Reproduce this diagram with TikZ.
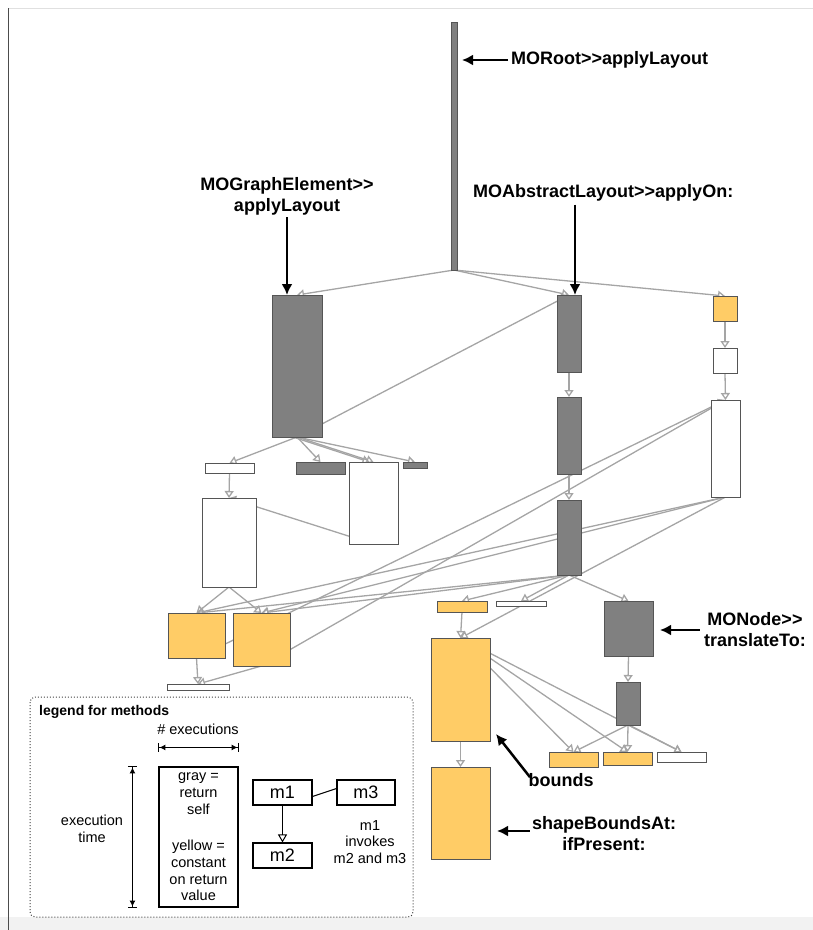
\documentclass[tikz,border=0pt]{standalone}
\usepackage{fontspec}
\setmainfont{Liberation Sans}[Ligatures=TeXOff]
\usetikzlibrary{arrows.meta,backgrounds}
\definecolor{mgray}{RGB}{128,128,128}
\definecolor{mborder}{RGB}{85,85,85}
\definecolor{myellow}{RGB}{255,204,102}
\definecolor{medge}{RGB}{165,165,165}

\begin{document}
\begin{tikzpicture}[x=1pt, y=-1pt,
    graym/.style={draw=mborder, fill=mgray, line width=0.9pt, inner sep=0pt, outer sep=0pt},
    yelm/.style={draw=mborder, fill=myellow, line width=0.9pt, inner sep=0pt, outer sep=0pt},
    whitem/.style={draw=mborder, fill=white, line width=0.9pt, inner sep=0pt, outer sep=0pt},
    call/.style={draw=medge, line width=1.3pt, -{Triangle[open, length=7pt, width=9pt]}},
    callout/.style={line width=2.5pt, -{Latex[length=11pt, width=11pt]}},
    lbl/.style={font=\fontsize{18}{21}\selectfont\bfseries, align=center, inner sep=0pt},
    lgd/.style={font=\fontsize{14.5}{16.7}\selectfont, align=center, inner sep=0pt},
    lgdm/.style={draw, line width=1.1pt, inner sep=0pt, minimum height=25, font=\fontsize{18}{20}\selectfont},
    dim/.style={line width=1pt, {Bar[width=9pt]Latex[length=6pt, width=6pt]}-{Latex[length=6pt, width=6pt]Bar[width=9pt]}}]
  \useasboundingbox (0,0) rectangle (813,930);
  \fill[black!5] (0,917) rectangle (813,930);
  \draw[black!12] (8,8) -- (813,8);
  \draw[black!70, line width=0.8pt] (8,8) -- (8,930);

  % methods
  \node[graym, minimum width=6, minimum height=248] (root) at (454,146) {};
  \node[graym, minimum width=50, minimum height=142] (ge) at (297,366) {};
  \node[graym, minimum width=24, minimum height=77] (al1) at (569,333.5) {};
  \node[graym, minimum width=24, minimum height=77] (al2) at (569,435.5) {};
  \node[graym, minimum width=24, minimum height=75] (al3) at (569,537.5) {};
  \node[yelm, minimum width=24, minimum height=25] (e1) at (725,308.5) {};
  \node[whitem, minimum width=24, minimum height=25] (e2) at (725,360.5) {};
  \node[whitem, minimum width=29, minimum height=97] (e3) at (725.5,448.5) {};
  \node[whitem, minimum width=49, minimum height=10] (b1) at (229.5,468) {};
  \node[graym, minimum width=49, minimum height=12] (b2) at (320.5,468) {};
  \node[whitem, minimum width=49, minimum height=82] (b3) at (373.5,503) {};
  \node[graym, minimum width=24, minimum height=6] (b4) at (415,465) {};
  \node[whitem, minimum width=54, minimum height=89] (c1) at (229,542.5) {};
  \node[yelm, minimum width=57, minimum height=45] (f1) at (196.5,635.5) {};
  \node[yelm, minimum width=57, minimum height=53] (f2) at (261.5,639.5) {};
  \node[whitem, minimum width=62, minimum height=6] (g) at (198,687) {};
  \node[yelm, minimum width=50, minimum height=11] (h1) at (462,606.5) {};
  \node[whitem, minimum width=50, minimum height=5] (h2) at (521,603.5) {};
  \node[graym, minimum width=49, minimum height=55] (tr) at (628.5,628.5) {};
  \node[yelm, minimum width=59, minimum height=103] (bd) at (460.5,689.5) {};
  \node[yelm, minimum width=59, minimum height=92] (sb) at (460.5,813) {};
  \node[graym, minimum width=24, minimum height=43] (tl) at (628,703.5) {};
  \node[yelm, minimum width=49, minimum height=15] (m1y) at (573.5,759.5) {};
  \node[yelm, minimum width=49, minimum height=13] (m2y) at (627.5,758.5) {};
  \node[whitem, minimum width=49, minimum height=10] (m3w) at (681.5,757) {};

  % invocations
  \begin{scope}[on background layer]
    \foreach \a/\b in {root/ge, root/al1, root/e1, ge/al1, ge/b1, ge/b2, ge/b3, ge/b4,
        b1/c1, b3/c1, c1/f1, c1/f2, al1/al2, al2/al3, e1/e2, e2/e3, f1/e3, f2/e3,
        f1/g, f2/g, al3/f1, al3/f2, e3/f1, e3/f2, al3/h1, al3/h2, al3/tr, e3/bd,
        h1/bd, bd/sb, tr/tl, tl/m1y, tl/m2y, tl/m3w}
      \draw[call] (\a.south) -- (\b.north);
    \draw[call] ([xshift=-4pt]ge.south) -- ([xshift=-4pt]b3.north);
    \foreach \b in {m1y, m2y, m3w}
      \draw[call] (bd.north) -- (\b.north);
  \end{scope}

  % labels
  \node[lbl, anchor=west] (lroot) at (511,60) {MORoot>>applyLayout};
  \draw[callout] ([xshift=-3pt]lroot.west) -- ([xshift=5pt]lroot.west -| root.east);
  \node[lbl] (lge) at (287,196) {MOGraphElement>>\\applyLayout};
  \draw[callout] ([yshift=-2pt]lge.south) -- (lge.south |- ge.north);
  \node[lbl, anchor=west] (lal) at (473,193) {MOAbstractLayout>>applyOn:};
  \draw[callout] ([xshift=6pt, yshift=-3pt]al1.north |- lal.south) -- ([xshift=6pt]al1.north);
  \node[lbl] (ltr) at (755,630) {MONode>>\\translateTo:};
  \draw[callout] ([xshift=-4pt]ltr.west) -- ([xshift=7pt]tr.east |- ltr.west);
  \node[lbl] (lbd) at (561,780) {bounds};
  \draw[callout] ([shift={(-31pt,-4pt)}]lbd.north) -- ([shift={(6pt,7pt)}]bd.south east);
  \node[lbl] (lsb) at (604,834) {shapeBoundsAt:\\ifPresent:};
  \draw[callout] ([xshift=-2pt, yshift=3pt]lsb.west) -- ([xshift=7pt, yshift=3pt]sb.east |- lsb.west);

  % legend
  \draw[black!75, line width=1pt, dotted, rounded corners=5pt] (30,697) rectangle (413,917);
  \node[anchor=west, inner sep=0pt, font=\fontsize{14}{16}\selectfont\bfseries] (lgtitle) at (39,712) {legend for methods};
  \node[lgd, draw, line width=1.1pt, minimum width=79, minimum height=140] (lgbox) at (198.5,837)
    {gray =\\return\\self\\[20pt]yellow =\\constant\\on return\\value};
  \node[lgd] (lgexec) at (198,729) {\# executions};
  \draw[dim] ([yshift=19pt]lgbox.north west) -- ([yshift=19pt]lgbox.north east);
  \draw[dim] ([xshift=-26pt]lgbox.north west) -- ([xshift=-26pt]lgbox.south west);
  \node[lgd] (lgtime) at (92,829) {execution\\time};
  \node[lgdm, minimum width=59] (m1) at (282.5,792.5) {m1};
  \node[lgdm, minimum width=58] (m3) at (366,792.5) {m3};
  \node[lgdm, minimum width=59] (m2) at (282.5,855.5) {m2};
  \draw[line width=1pt] ([yshift=-4pt]m1.east) -- ([yshift=4pt]m3.west);
  \draw[line width=1pt, -{Triangle[open, length=8pt, width=9pt]}] (m1.south) -- (m2.north);
  \node[lgd] (lginv) at (370,842) {m1\\invokes\\m2 and m3};
\end{tikzpicture}
\end{document}
